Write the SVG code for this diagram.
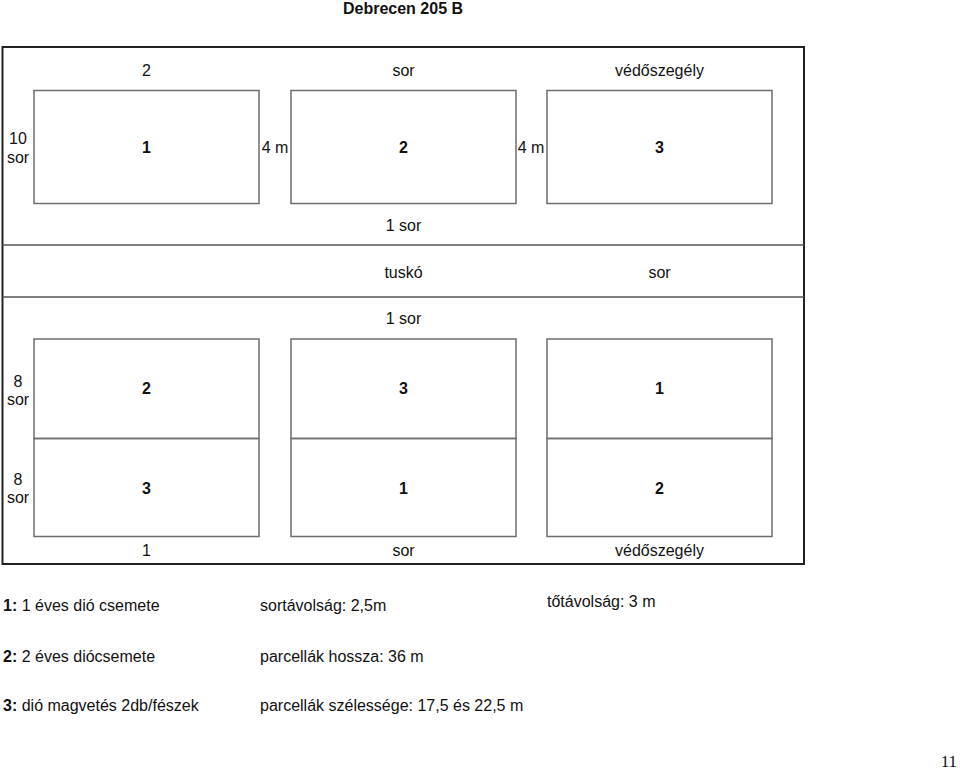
<svg xmlns="http://www.w3.org/2000/svg" width="960" height="772" viewBox="0 0 960 772">
<style>
text{font-family:"Liberation Sans",Arial,sans-serif;font-size:16px;fill:#111}
.c{text-anchor:middle}
.b{font-weight:bold}
.plot{fill:none;stroke:#6e6e6e;stroke-width:1.5}
.div{stroke:#555;stroke-width:1.5}
.frame{fill:none;stroke:#222;stroke-width:2}
</style>
<rect width="960" height="772" fill="#fff"/>
<text class="c b" x="403" y="14">Debrecen 205 B</text>
<g id="frame">
<rect class="frame" x="2.5" y="47" width="801.5" height="517"/>
<line class="div" x1="2.5" y1="245" x2="804" y2="245"/>
<line class="div" x1="2.5" y1="297" x2="804" y2="297"/>
</g>
<g id="top-labels">
<text class="c" x="146.5" y="76">2</text>
<text class="c" x="403.5" y="76">sor</text>
<text class="c" x="659.5" y="76">védőszegély</text>
<text class="c" x="18" y="144">10</text>
<text class="c" x="18" y="163">sor</text>
<text class="c" x="275" y="153">4 m</text>
<text class="c" x="531" y="153">4 m</text>
<text class="c" x="403.5" y="231">1 sor</text>
<text class="c" x="403.5" y="278">tuskó</text>
<text class="c" x="659.5" y="278">sor</text>
<text class="c" x="403.5" y="324">1 sor</text>
<text class="c" x="18" y="387">8</text>
<text class="c" x="18" y="405">sor</text>
<text class="c" x="18" y="485">8</text>
<text class="c" x="18" y="503">sor</text>
<text class="c" x="146.5" y="556">1</text>
<text class="c" x="403.5" y="556">sor</text>
<text class="c" x="659.5" y="556">védőszegély</text>
</g>
<g id="plot-top-1"><rect class="plot" x="34" y="90.5" width="225" height="113"/><text class="c b" x="146.5" y="153">1</text></g>
<g id="plot-top-2"><rect class="plot" x="291" y="90.5" width="225" height="113"/><text class="c b" x="403.5" y="153">2</text></g>
<g id="plot-top-3"><rect class="plot" x="547" y="90.5" width="225" height="113"/><text class="c b" x="659.5" y="153">3</text></g>
<g id="plot-a-1"><rect class="plot" x="34" y="339" width="225" height="99.5"/><text class="c b" x="146.5" y="394">2</text></g>
<g id="plot-a-2"><rect class="plot" x="291" y="339" width="225" height="99.5"/><text class="c b" x="403.5" y="394">3</text></g>
<g id="plot-a-3"><rect class="plot" x="547" y="339" width="225" height="99.5"/><text class="c b" x="659.5" y="394">1</text></g>
<g id="plot-b-1"><rect class="plot" x="34" y="438.5" width="225" height="98"/><text class="c b" x="146.5" y="494">3</text></g>
<g id="plot-b-2"><rect class="plot" x="291" y="438.5" width="225" height="98"/><text class="c b" x="403.5" y="494">1</text></g>
<g id="plot-b-3"><rect class="plot" x="547" y="438.5" width="225" height="98"/><text class="c b" x="659.5" y="494">2</text></g>
<g id="legend">
<text x="3" y="611"><tspan class="b">1:</tspan> 1 éves dió csemete</text>
<text x="260" y="611">sortávolság: 2,5m</text>
<text x="547" y="607">tőtávolság: 3 m</text>
<text x="3" y="662"><tspan class="b">2:</tspan> 2 éves diócsemete</text>
<text x="260" y="662">parcellák hossza: 36 m</text>
<text x="3" y="711"><tspan class="b">3:</tspan> dió magvetés 2db/fészek</text>
<text x="260" y="711">parcellák szélessége: 17,5 és 22,5 m</text>
</g>
<text x="957" y="767" style="font-family:'Liberation Serif','Times New Roman',serif;font-size:17px;text-anchor:end">11</text>
</svg>
